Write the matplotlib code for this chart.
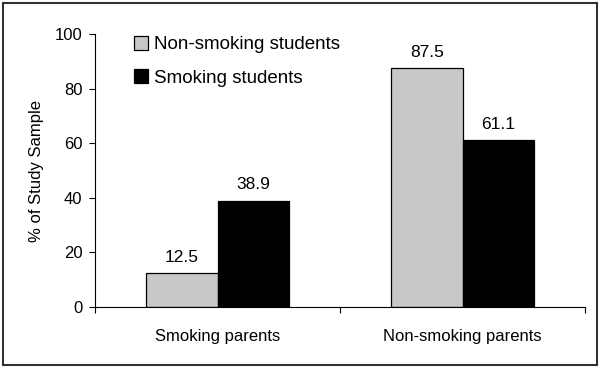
import numpy as np
import matplotlib.pyplot as plt
from matplotlib.patches import Rectangle

# data
categories = ['Smoking parents', 'Non-smoking parents']
series_names = ['Non-smoking students', 'Smoking students']
non_smoking = [12.5, 87.5]
smoking = [38.9, 61.1]
y_ticks = [0, 20, 40, 60, 80, 100]

plt.rcParams['font.family'] = ['Liberation Sans', 'DejaVu Sans']

fig = plt.figure(figsize=(6, 3.68), dpi=100)
ax = fig.add_axes([95 / 600, 1 - 307 / 368, 490 / 600, 273 / 368])

# outer frame around the whole chart
fig.patches.append(Rectangle((3 / 600, 3 / 368), 594 / 600, 362 / 368,
                             transform=fig.transFigure, fill=False,
                             edgecolor='#333333', linewidth=1.5))

x = np.arange(len(categories))
w = 0.29
b1 = ax.bar(x - w / 2, non_smoking, w, color='#c8c8c8', edgecolor='black',
            linewidth=0.9, label=series_names[0])
b2 = ax.bar(x + w / 2, smoking, w, color='black', edgecolor='black',
            linewidth=0.9, label=series_names[1])

for bars, vals in [(b1, non_smoking), (b2, smoking)]:
    for rect, v in zip(bars, vals):
        ax.annotate(f'{v:.1f}', (rect.get_x() + rect.get_width() / 2, v),
                    xytext=(0, 6), textcoords='offset points',
                    ha='center', va='bottom', fontsize=12.5)

ax.set_xlim(-0.5, 1.5)
ax.set_ylim(0, 100)
ax.set_yticks(y_ticks)
ax.set_ylabel('% of Study Sample', fontsize=12, labelpad=8)

# ticks at category boundaries, labels centered
ax.set_xticks([-0.5, 0.5, 1.5])
ax.set_xticklabels([])
ax.set_xticks(x, minor=True)
ax.set_xticklabels(categories, minor=True, fontsize=12)
ax.tick_params(axis='x', which='minor', length=0, pad=16)
ax.tick_params(axis='x', which='major', length=4, direction='out')
ax.tick_params(axis='y', length=4, direction='out', labelsize=12, pad=5)

for s in ['top', 'right']:
    ax.spines[s].set_visible(False)

ax.legend(loc='upper left', bbox_to_anchor=(0.045, 1.055), frameon=False,
          fontsize=13.5, handlelength=0.75, handleheight=0.75, handletextpad=0.3,
          labelspacing=0.85)

plt.savefig('out.png', dpi=100)
